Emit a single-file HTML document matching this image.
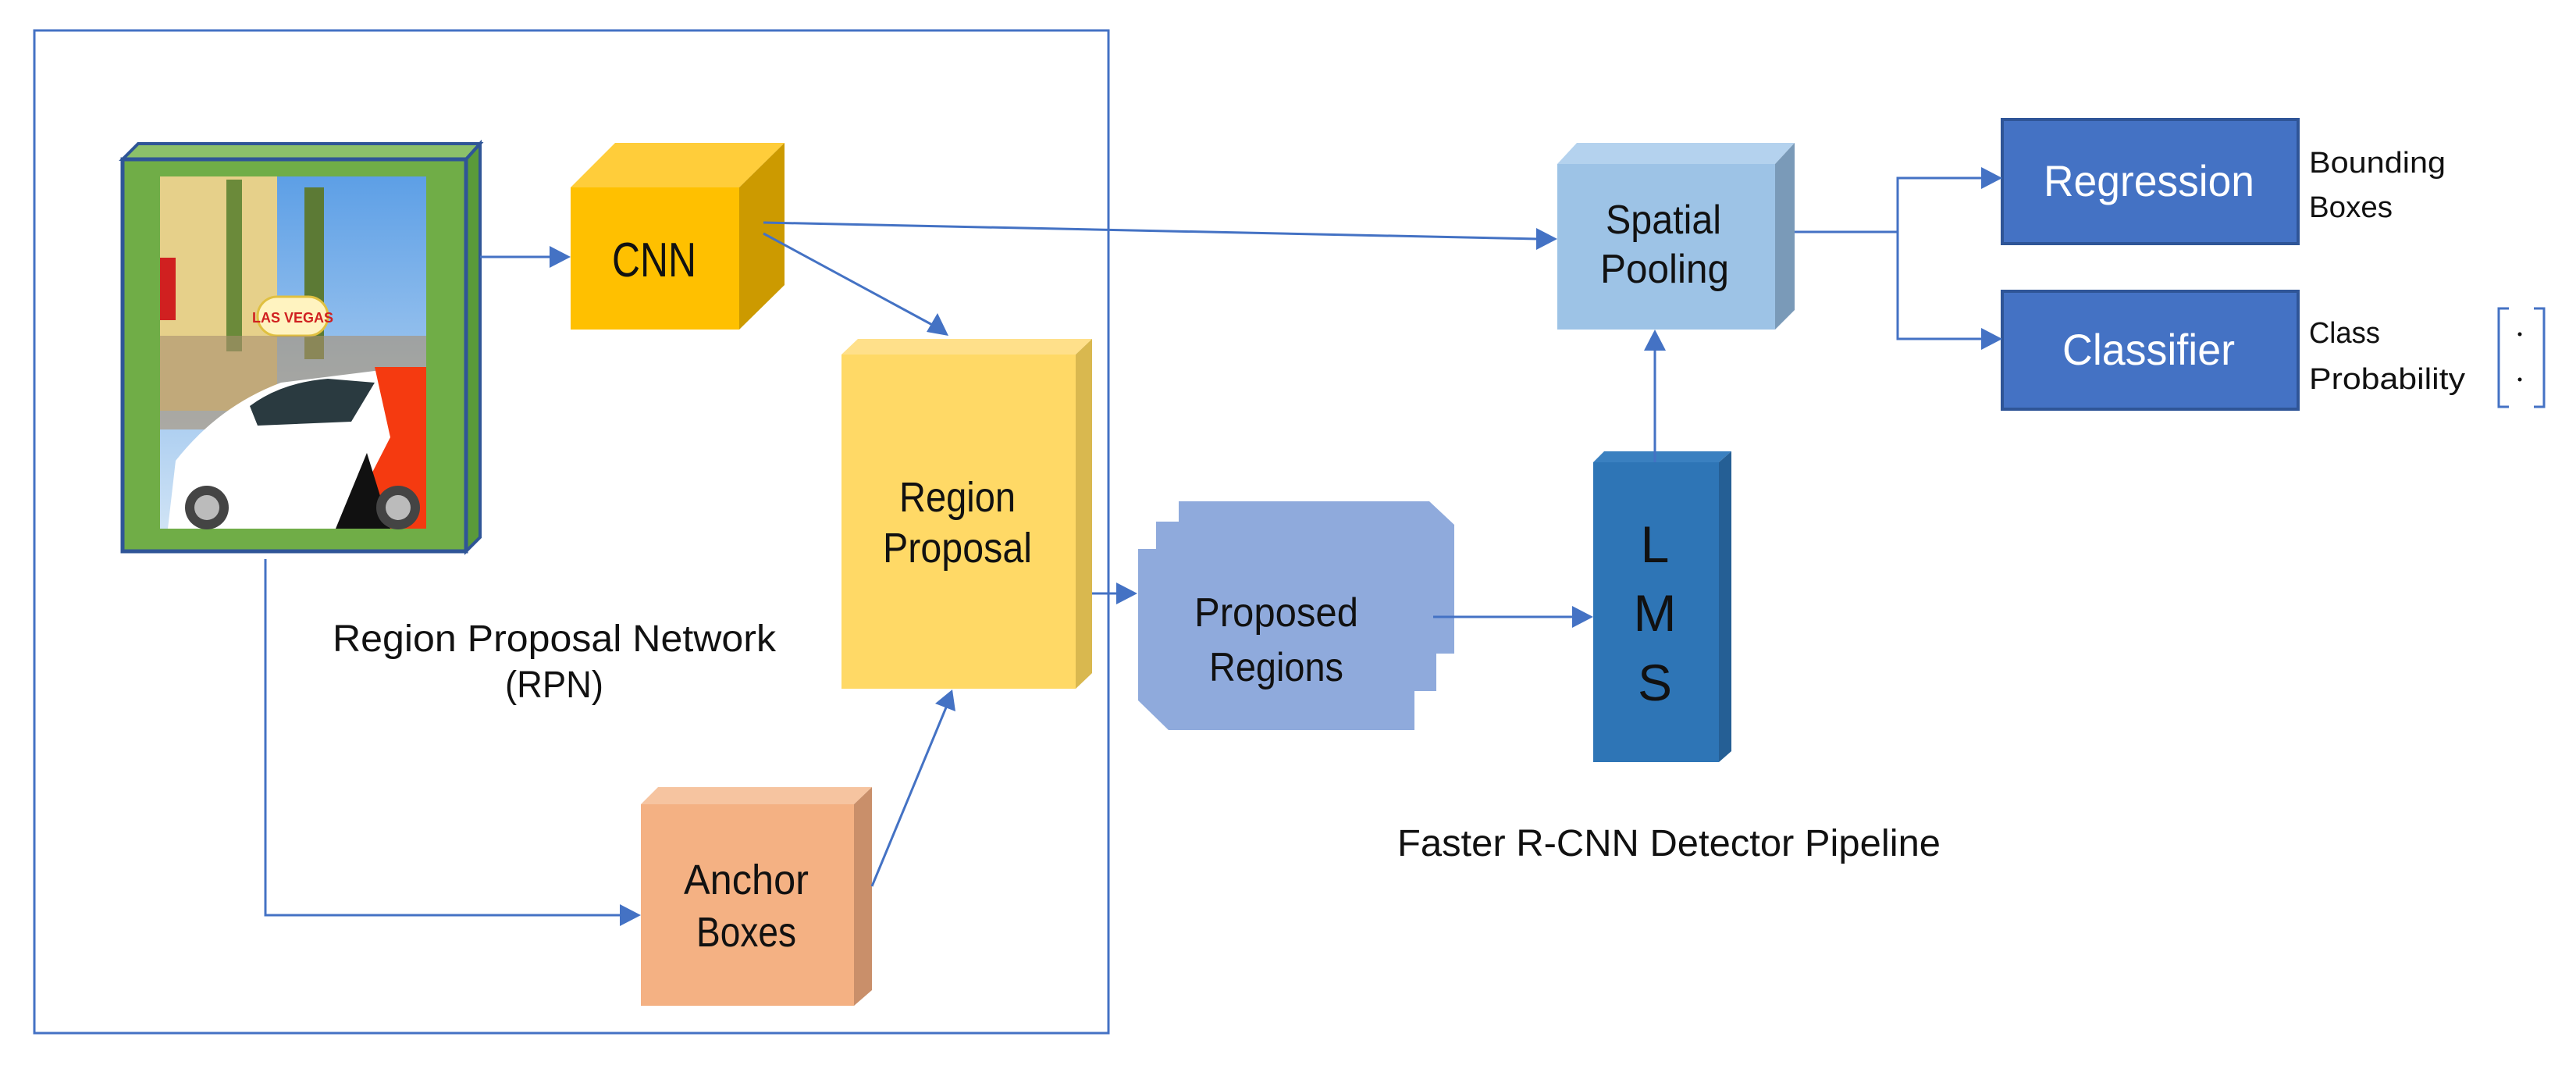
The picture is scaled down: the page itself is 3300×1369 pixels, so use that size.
<!DOCTYPE html>
<html><head><meta charset="utf-8"><style>
html,body{margin:0;padding:0;background:#fff;}
svg{display:block;}
text{font-family:"Liberation Sans",sans-serif;fill:#111;}
</style></head><body>
<svg width="3300" height="1369" viewBox="0 0 3300 1369" xmlns="http://www.w3.org/2000/svg">
<defs>
<marker id="ah" markerWidth="10" markerHeight="10" refX="9" refY="5" orient="auto" markerUnits="userSpaceOnUse" viewBox="0 0 10 10">
</marker>
<linearGradient id="sky" x1="0" y1="0" x2="0" y2="1"><stop offset="0" stop-color="#5d9fe6"/><stop offset="1" stop-color="#cfe3f5"/></linearGradient>
</defs>
<g stroke="#4472C4" stroke-width="3" fill="none">
<rect x="44" y="39" width="1376" height="1284"/>
</g>

<!-- image block -->
<polygon points="157,204 177,184 615,184 597,204" fill="#8cc06a" stroke="#2F5597" stroke-width="4"/>
<polygon points="597,204 615,184 615,688 597,706" fill="#5a9a3a" stroke="#2F5597" stroke-width="4"/>
<rect x="157" y="204" width="440" height="502" fill="#70AD47" stroke="#2F5597" stroke-width="5"/>
<g>
<rect x="205" y="226" width="341" height="451" fill="url(#sky)"/>
<rect x="205" y="226" width="150" height="300" fill="#e6d08a"/>
<rect x="205" y="330" width="20" height="80" fill="#d02020"/>
<rect x="290" y="230" width="20" height="220" fill="#6b8a3a"/>
<rect x="390" y="240" width="25" height="220" fill="#5c7a35"/>
<rect x="330" y="380" width="90" height="50" rx="25" fill="#fff3c0" stroke="#e0c040" stroke-width="3"/>
<text x="375" y="413" font-size="18" text-anchor="middle" style="fill:#d02020;font-weight:bold">LAS VEGAS</text>
<rect x="205" y="430" width="341" height="120" fill="#a89070" opacity="0.6"/>
<path d="M215,677 L225,590 Q280,520 360,490 L520,470 L546,480 L546,677 Z" fill="#ffffff"/>
<path d="M440,677 L500,560 L480,470 L546,470 L546,677 Z" fill="#f53a10"/>
<path d="M430,677 L470,580 L500,677 Z" fill="#111"/>
<path d="M320,520 Q360,490 420,485 L480,490 L450,540 L330,545 Z" fill="#2a3a40"/>
<circle cx="265" cy="650" r="28" fill="#444"/><circle cx="265" cy="650" r="16" fill="#bbb"/>
<circle cx="510" cy="650" r="28" fill="#444"/><circle cx="510" cy="650" r="16" fill="#bbb"/>
</g>

<!-- CNN -->
<polygon points="731,240 788,183 1005,183 947,240" fill="#FFCD3A"/>
<polygon points="947,240 1005,183 1005,365 947,422" fill="#CC9A00"/>
<rect x="731" y="240" width="216" height="182" fill="#FFC000"/>
<text x="784" y="354" font-size="62" textLength="108" lengthAdjust="spacingAndGlyphs">CNN</text>

<!-- Region Proposal -->
<polygon points="1078,454 1099,434 1399,434 1378,454" fill="#FFE08A"/>
<polygon points="1378,454 1399,434 1399,862 1378,882" fill="#D9B84F"/>
<rect x="1078" y="454" width="300" height="428" fill="#FFD966"/>
<text x="1152" y="655" font-size="54" textLength="149" lengthAdjust="spacingAndGlyphs">Region</text>
<text x="1131" y="720" font-size="54" textLength="191" lengthAdjust="spacingAndGlyphs">Proposal</text>

<!-- Anchor Boxes -->
<polygon points="821,1030 843,1008 1117,1008 1094,1030" fill="#F6C4A0"/>
<polygon points="1094,1030 1117,1008 1117,1268 1094,1288" fill="#C98F6A"/>
<rect x="821" y="1030" width="273" height="258" fill="#F4B183"/>
<text x="876" y="1145" font-size="54" textLength="160" lengthAdjust="spacingAndGlyphs">Anchor</text>
<text x="892" y="1212" font-size="54" textLength="128" lengthAdjust="spacingAndGlyphs">Boxes</text>

<!-- RPN label -->
<text x="426" y="834" font-size="48" textLength="568" lengthAdjust="spacingAndGlyphs">Region Proposal Network</text>
<text x="647" y="893" font-size="48" textLength="126" lengthAdjust="spacingAndGlyphs">(RPN)</text>

<!-- Proposed Regions -->
<path d="M1510,642 L1831,642 L1863,672 L1863,837 L1840,837 L1840,885 L1812,885 L1812,935 L1497,935 L1458,897 L1458,703 L1481,703 L1481,668 L1510,668 Z" fill="#8FAADC"/>
<text x="1530" y="802" font-size="52" textLength="210" lengthAdjust="spacingAndGlyphs">Proposed</text>
<text x="1549" y="872" font-size="52" textLength="172" lengthAdjust="spacingAndGlyphs">Regions</text>

<!-- Spatial Pooling -->
<polygon points="1995,210 2020,183 2299,183 2274,210" fill="#B4D2EE"/>
<polygon points="2274,210 2299,183 2299,397 2274,422" fill="#7A9AB8"/>
<rect x="1995" y="210" width="279" height="212" fill="#9DC3E6"/>
<text x="2057" y="299" font-size="52" textLength="148" lengthAdjust="spacingAndGlyphs">Spatial</text>
<text x="2050" y="362" font-size="52" textLength="165" lengthAdjust="spacingAndGlyphs">Pooling</text>

<!-- LMS -->
<polygon points="2041,592 2055,578 2218,578 2202,592" fill="#3A80C0"/>
<polygon points="2202,592 2218,578 2218,962 2202,976" fill="#255F95"/>
<rect x="2041" y="592" width="161" height="384" fill="#2E75B6"/>
<text x="2120" y="720" font-size="66" text-anchor="middle">L</text>
<text x="2120" y="808" font-size="66" text-anchor="middle">M</text>
<text x="2120" y="897" font-size="66" text-anchor="middle">S</text>

<!-- Regression / Classifier -->
<rect x="2565" y="153" width="379" height="159" fill="#4472C4" stroke="#2F5597" stroke-width="4"/>
<text x="2618" y="251" font-size="56" textLength="270" lengthAdjust="spacingAndGlyphs" style="fill:#fff">Regression</text>
<rect x="2565" y="373" width="379" height="151" fill="#4472C4" stroke="#2F5597" stroke-width="4"/>
<text x="2642" y="467" font-size="56" textLength="221" lengthAdjust="spacingAndGlyphs" style="fill:#fff">Classifier</text>

<text x="2958" y="221" font-size="38" textLength="175" lengthAdjust="spacingAndGlyphs">Bounding</text>
<text x="2958" y="278" font-size="38" textLength="107" lengthAdjust="spacingAndGlyphs">Boxes</text>
<text x="2958" y="439" font-size="38" textLength="91" lengthAdjust="spacingAndGlyphs">Class</text>
<text x="2958" y="498" font-size="38" textLength="200" lengthAdjust="spacingAndGlyphs">Probability</text>
<path d="M3214,395 L3201,395 L3201,521 L3214,521 M3246,395 L3259,395 L3259,521 L3246,521" fill="none" stroke="#4472C4" stroke-width="3"/>
<circle cx="3228" cy="428" r="2.5" fill="#111"/><circle cx="3228" cy="486" r="2.5" fill="#111"/>

<text x="1790" y="1096" font-size="48" textLength="696" lengthAdjust="spacingAndGlyphs">Faster R-CNN Detector Pipeline</text>

<!-- connectors -->
<g stroke="#4472C4" stroke-width="3" fill="none">
<line x1="615" y1="329" x2="706" y2="329"/>
<line x1="978" y1="285" x2="1970" y2="306"/>
<line x1="978" y1="299" x2="1198" y2="418"/>
<polyline points="340,716 340,1172 796,1172"/>
<line x1="1117" y1="1135" x2="1212" y2="906"/>
<line x1="1399" y1="760" x2="1432" y2="760"/>
<line x1="1836" y1="790" x2="2016" y2="790"/>
<line x1="2120" y1="592" x2="2120" y2="447"/>
<polyline points="2299,297 2431,297"/>
<polyline points="2540,228 2431,228 2431,434 2540,434"/>
</g>
<g fill="#4472C4">
<polygon points="731,329 704,315 704,343"/>
<polygon points="1995,306 1968,292 1968,320"/>
<polygon points="1215,430 1187,425 1201,401"/>
<polygon points="821,1172 794,1158 794,1186"/>
<polygon points="1220,883 1224,911 1198,901"/>
<polygon points="1457,760 1430,746 1430,774"/>
<polygon points="2041,790 2014,776 2014,804"/>
<polygon points="2120,422 2106,449 2134,449"/>
<polygon points="2565,228 2538,214 2538,242"/>
<polygon points="2565,434 2538,420 2538,448"/>
</g>
</svg>
</body></html>
